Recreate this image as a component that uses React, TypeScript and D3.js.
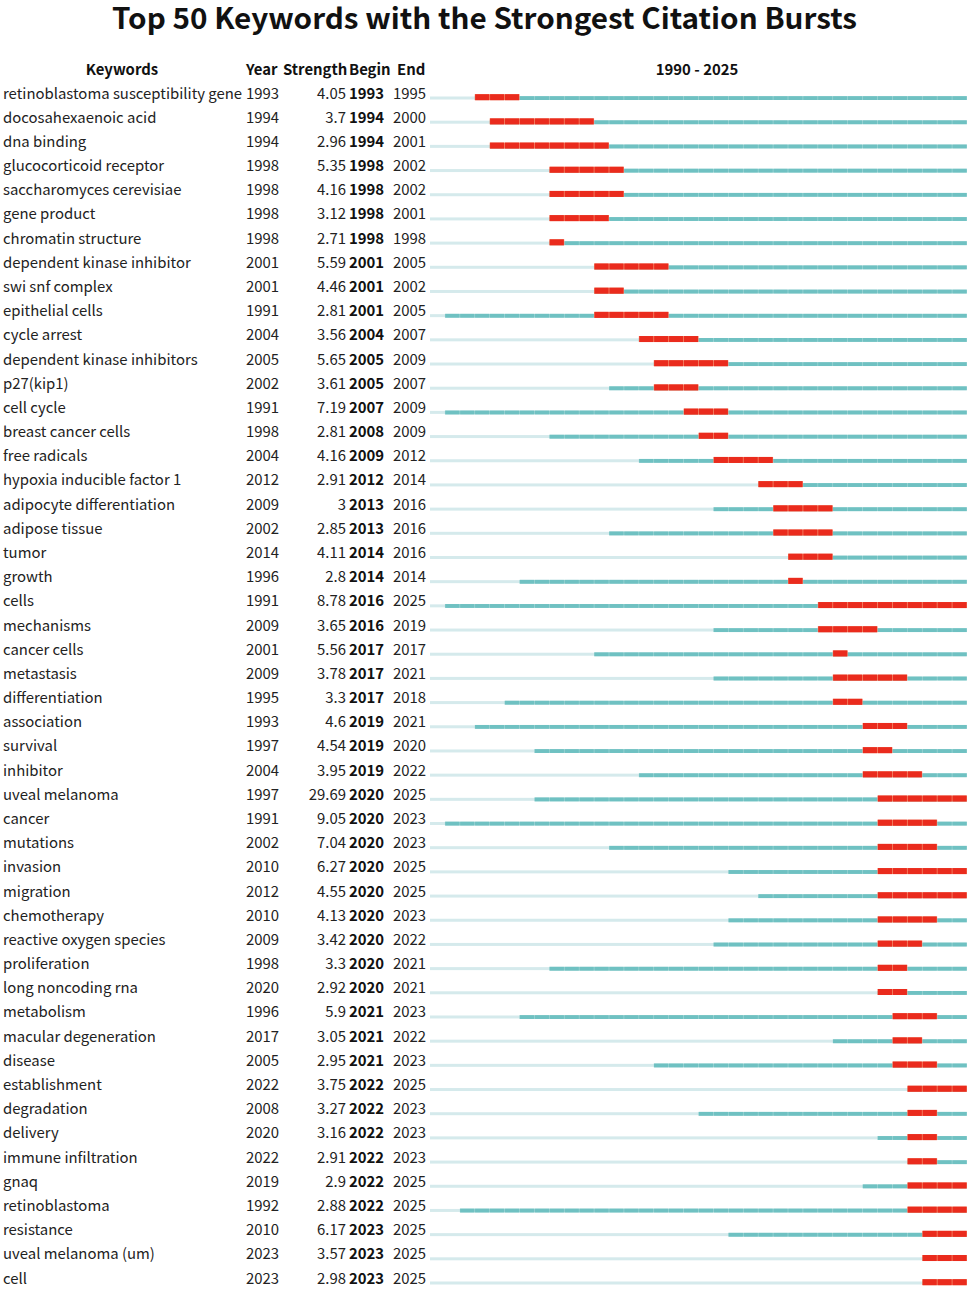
import * as d3 from 'd3';

const keywords = [
  'retinoblastoma susceptibility gene', 'docosahexaenoic acid', 'dna binding', 'glucocorticoid receptor',
  'saccharomyces cerevisiae', 'gene product', 'chromatin structure', 'dependent kinase inhibitor',
  'swi snf complex', 'epithelial cells', 'cycle arrest', 'dependent kinase inhibitors', 'p27(kip1)',
  'cell cycle', 'breast cancer cells', 'free radicals', 'hypoxia inducible factor 1',
  'adipocyte differentiation', 'adipose tissue', 'tumor', 'growth', 'cells', 'mechanisms',
  'cancer cells', 'metastasis', 'differentiation', 'association', 'survival', 'inhibitor',
  'uveal melanoma', 'cancer', 'mutations', 'invasion', 'migration', 'chemotherapy',
  'reactive oxygen species', 'proliferation', 'long noncoding rna', 'metabolism',
  'macular degeneration', 'disease', 'establishment', 'degradation', 'delivery',
  'immune infiltration', 'gnaq', 'retinoblastoma', 'resistance', 'uveal melanoma (um)', 'cell',
];

const firstYears = [
  1993, 1994, 1994, 1998, 1998, 1998, 1998, 2001, 2001, 1991, 2004, 2005, 2002, 1991, 1998, 2004, 2012,
  2009, 2002, 2014, 1996, 1991, 2009, 2001, 2009, 1995, 1993, 1997, 2004, 1997, 1991, 2002, 2010, 2012,
  2010, 2009, 1998, 2020, 1996, 2017, 2005, 2022, 2008, 2020, 2022, 2019, 1992, 2010, 2023, 2023,
];

const strengths = [
  '4.05', '3.7', '2.96', '5.35', '4.16', '3.12', '2.71', '5.59', '4.46', '2.81', '3.56', '5.65', '3.61',
  '7.19', '2.81', '4.16', '2.91', '3', '2.85', '4.11', '2.8', '8.78', '3.65', '5.56', '3.78', '3.3',
  '4.6', '4.54', '3.95', '29.69', '9.05', '7.04', '6.27', '4.55', '4.13', '3.42', '3.3', '2.92', '5.9',
  '3.05', '2.95', '3.75', '3.27', '3.16', '2.91', '2.9', '2.88', '6.17', '3.57', '2.98',
];

const begins = [
  1993, 1994, 1994, 1998, 1998, 1998, 1998, 2001, 2001, 2001, 2004, 2005, 2005, 2007, 2008, 2009, 2012,
  2013, 2013, 2014, 2014, 2016, 2016, 2017, 2017, 2017, 2019, 2019, 2019, 2020, 2020, 2020, 2020, 2020,
  2020, 2020, 2020, 2020, 2021, 2021, 2021, 2022, 2022, 2022, 2022, 2022, 2022, 2023, 2023, 2023,
];

const ends = [
  1995, 2000, 2001, 2002, 2002, 2001, 1998, 2005, 2002, 2005, 2007, 2009, 2007, 2009, 2009, 2012, 2014,
  2016, 2016, 2016, 2014, 2025, 2019, 2017, 2021, 2018, 2021, 2020, 2022, 2025, 2023, 2023, 2025, 2025,
  2023, 2022, 2021, 2021, 2023, 2022, 2023, 2025, 2023, 2023, 2023, 2025, 2025, 2025, 2025, 2025,
];

const startYear = 1990;
const endYear = 2025;

const FONT = '"Noto Sans CJK SC", "Source Sans Pro", Lato, sans-serif';
const FS = 14.9;

export default function App() {
  const width = 969;
  const height = 1290;

  const x = d3.scaleLinear().domain([startYear, endYear + 1]).range([430, 967]);
  const y = d3.scalePoint<number>().domain(d3.range(keywords.length)).range([98, 1283]);
  const cell = x(startYear + 1) - x(startYear);

  const yearsIn = (a: number, b: number) => d3.range(a, b + 1);

  return (
    <div style={{ position: 'absolute', left: 0, top: 0, background: '#fff' }}>
      <svg width={width} height={height} style={{ display: 'block', fontFamily: FONT }}>
        <rect width={width} height={height} fill="#fff" />
        <text x={484.5} y={29} textAnchor="middle" fontSize={29} fontWeight={700}
          textLength={745} lengthAdjust="spacingAndGlyphs" fill="#111">
          Top 50 Keywords with the Strongest Citation Bursts
        </text>

        <g fontSize={FS} fontWeight={700} fill="#111">
          <text x={122} y={75} textAnchor="middle">Keywords</text>
          <text x={246} y={75}>Year</text>
          <text x={283} y={75}>Strength</text>
          <text x={349} y={75}>Begin</text>
          <text x={397} y={75}>End</text>
          <text x={697} y={75} textAnchor="middle">{`${startYear} - ${endYear}`}</text>
        </g>

        {keywords.map((kw, i) => {
          const yy = y(i) as number;
          const tb = yy + 0.5;
          return (
            <g key={kw + i}>
              <g fontSize={FS} fill="#222">
                <text x={3} y={tb}>{kw}</text>
                <text x={246} y={tb}>{firstYears[i]}</text>
                <text x={346} y={tb} textAnchor="end">{strengths[i]}</text>
                <text x={349} y={tb} fontWeight={700} fill="#111">{begins[i]}</text>
                <text x={393} y={tb}>{ends[i]}</text>
              </g>
              {/* light background line */}
              <rect x={x(startYear)} y={yy - 1.5} width={x(endYear + 1) - x(startYear)} height={3} fill="#d5eaec" />
              {/* teal line from first appearance */}
              <rect x={x(firstYears[i])} y={yy - 1.8} width={x(endYear + 1) - x(firstYears[i])} height={3.8} fill="#a9d9d9" />
              {yearsIn(firstYears[i], endYear).map((yr) => (
                <rect key={yr} x={x(yr) + 0.3} y={yy - 1.8} width={cell - 0.6} height={3.8} fill="#6fc1c2" />
              ))}
              {/* burst */}
              <rect x={x(begins[i])} y={yy - 3.8} width={x(ends[i] + 1) - x(begins[i])} height={6} fill="#f48a6a" />
              {yearsIn(begins[i], ends[i]).map((yr) => (
                <rect key={'b' + yr} x={x(yr) + 0.4} y={yy - 3.8} width={cell - 0.8} height={6} fill="#ea2b1d" />
              ))}
            </g>
          );
        })}
      </svg>
    </div>
  );
}
